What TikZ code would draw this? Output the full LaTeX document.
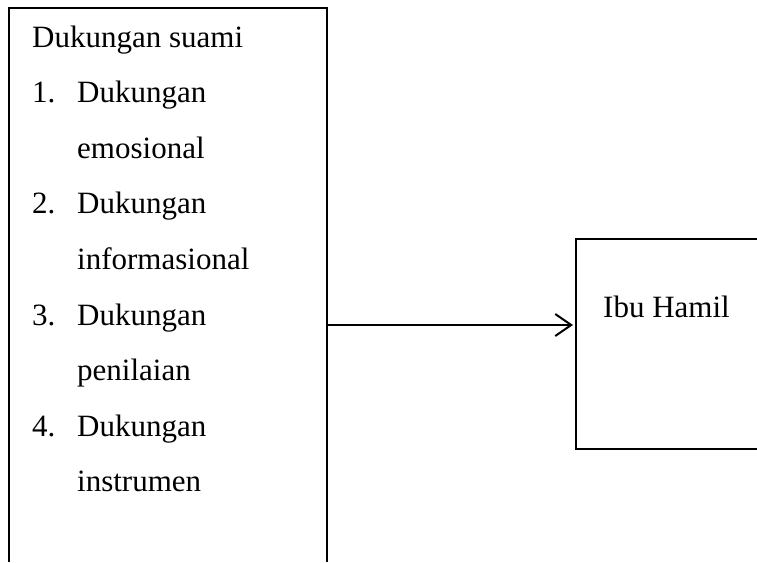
\documentclass[tikz,border=0pt]{standalone}
\usepackage{fontspec}
\setmainfont{Liberation Serif}
\usetikzlibrary{arrows.meta}
\tikzset{
  txt/.style={anchor=base west,inner sep=0pt,font=\fontsize{31}{37}\selectfont},
  kotak/.style={draw,line width=1.6pt,minimum width=240pt,minimum height=210pt,anchor=north west,inner sep=0pt}
}
\begin{document}
\begin{tikzpicture}[x=1pt,y=-1pt]
\useasboundingbox (0,0) rectangle (757,562);
\pgfmathsetmacro{\ls}{55.6}
\pgfmathsetmacro{\nx}{32}
\pgfmathsetmacro{\tx}{77}
% kotak kiri, terbuka di bawah
\draw[line width=1.6pt](9,562)--++(0,-554)--++(318,0)--++(0,554);
\node[txt] (judul) at (\nx,47) {Dukungan suami};
\foreach \i/\a/\b in {1/emosional/a,2/informasional/b,3/penilaian/c,4/instrumen/d}{
  \pgfmathsetmacro{\y}{47+(2*\i-1)*\ls}
  \node[txt] (no\b) at (\nx,\y) {\i.};
  \node[txt] (dk\b) at (\tx,\y) {Dukungan};
  \node[txt] (jn\b) at (\tx,\y+\ls) {\a};
}
% kotak kanan
\node[kotak] (ibu) at (575,238) {};
\node[txt] (ibutxt) at (603,317) {Ibu Hamil};
\coordinate (kiri) at (327,325);
\draw[line width=2pt,shorten >=2pt,-{Straight Barb[length=16pt,width=22pt]}] (kiri)--(ibu.west|-kiri);
\end{tikzpicture}
\end{document}
